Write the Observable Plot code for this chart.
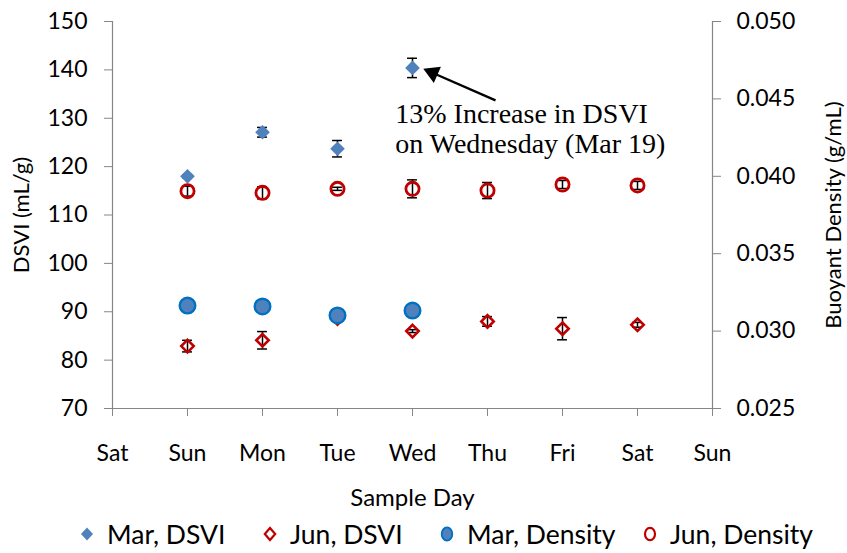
<!DOCTYPE html>
<html><head><meta charset="utf-8">
<script src="https://cdn.jsdelivr.net/npm/d3@7"></script>
<script src="https://cdn.jsdelivr.net/npm/@observablehq/plot@0.6"></script>
<style>
body{margin:0;background:#fff;font-family:Lato, "Liberation Sans", sans-serif;}
#chart svg{display:block;}
#legend{position:relative;height:43px;width:847px;font-size:26.5px;color:#000;}
.item{position:absolute;top:9px;display:flex;align-items:center;white-space:nowrap;line-height:30px;}
.item svg{margin-right:13px;}
</style></head><body><div id="chart"></div><div id="legend"></div>
<script>
// ---------- data ----------
const axisDays = ["Sat","Sun","Mon","Tue","Wed","Thu","Fri","Sat","Sun"];
const sampleDays = ["Sun","Mon","Tue","Wed","Thu","Fri","Sat"];
const marDays = ["Sun","Mon","Tue","Wed"];
const junDays = ["Sun","Mon","Tue","Wed","Thu","Fri","Sat"];
const marDSVI = [118.0, 127.1, 123.7, 140.4];
const marDSVIErr = [0.3, 1.0, 1.7, 2.0];
const junDSVI = [82.9, 84.1, 88.6, 86.0, 88.0, 86.5, 87.3];
const junDSVIErr = [1.2, 1.8, 0.5, 0.3, 1.0, 2.3, 0.5];
const marDensity = [0.03165, 0.03159, 0.03101, 0.03133];
const marDensityErr = [0.0001, 0.0001, 0.0001, 0.0001];
const junDensity = [0.03904, 0.03893, 0.03919, 0.03919, 0.03908, 0.03947, 0.03941];
const junDensityErr = [0.00032, 0.00039, 0.0001, 0.00058, 0.00052, 0.00026, 0.00026];
const leftTicks = [70, 80, 90, 100, 110, 120, 130, 140, 150];
const rightTicks = [0.025, 0.030, 0.035, 0.040, 0.045, 0.050];
const leftDomain = [70, 150];
const rightDomain = [0.025, 0.050];
const annotationLines = "13% Increase in DSVI\non Wednesday (Mar 19)";
const annotationText = {x: 3.77, y: 133.3};
const arrowTail = {x: 5.107, y: 133.7};
const arrowTip = {x: 4.147, y: 140.2};

// ---------- helpers ----------
const xOf = d => sampleDays.indexOf(d) + 1;
const toLeft = v => leftDomain[0] + (v - rightDomain[0]) / (rightDomain[1] - rightDomain[0]) * (leftDomain[1] - leftDomain[0]);
const toLeftErr = e => e / (rightDomain[1] - rightDomain[0]) * (leftDomain[1] - leftDomain[0]);

const rows = (days, vals, errs, series, conv, convErr) =>
  days.map((d, i) => ({series, x: xOf(d), y: conv(vals[i]), e: convErr(errs[i])}));
const id = v => v;
const marD = rows(marDays, marDSVI, marDSVIErr, "Mar, DSVI", id, id);
const junD = rows(junDays, junDSVI, junDSVIErr, "Jun, DSVI", id, id);
const marDen = rows(marDays, marDensity, marDensityErr, "Mar, Density", toLeft, toLeftErr);
const junDen = rows(junDays, junDensity, junDensityErr, "Jun, Density", toLeft, toLeftErr);
const all = [...marD, ...junD, ...marDen, ...junDen];
const capW = 0.066;

const gray = "#868686";
const blue = "#4F81BD";
const red = "#C00000";
const ringBlue = "#0070C0";

// arrow head geometry in data space
const W = 600, H = 387;
const pxPerX = W / 8, pxPerY = H / 80;
const dxp = (arrowTip.x - arrowTail.x) * pxPerX, dyp = -(arrowTip.y - arrowTail.y) * pxPerY;
const len = Math.hypot(dxp, dyp);
const ux = dxp / len, uy = dyp / len;
const headBack = 10;
const headCenter = {x: arrowTip.x - ux * headBack / pxPerX, y: arrowTip.y + uy * headBack / pxPerY};
const lineEnd = {x: arrowTip.x - ux * 14 / pxPerX, y: arrowTip.y + uy * 14 / pxPerY};
const headRot = Math.atan2(ux, -uy) * 180 / Math.PI;

const chart = Plot.plot({
  width: 847,
  height: 510,
  marginLeft: 112,
  marginRight: 135,
  marginTop: 21,
  marginBottom: 102,
  style: {fontFamily: "Lato, 'Liberation Sans', sans-serif", background: "#fff", overflow: "visible"},
  x: {domain: [0, 8], axis: null},
  y: {domain: leftDomain, axis: null},
  marks: [
    Plot.ruleX([0, 8], {stroke: gray, strokeWidth: 1.2}),
    Plot.ruleY([70], {stroke: gray, strokeWidth: 1.2}),
    Plot.axisY({anchor: "left", ticks: leftTicks, tickSize: 8, tickPadding: 17, fontSize: 23, stroke: gray, fill: "#000", label: null}),
    Plot.axisY({anchor: "right", ticks: rightTicks.map(toLeft), tickFormat: v => d3.format(".3f")(rightDomain[0] + (v - leftDomain[0]) / (leftDomain[1] - leftDomain[0]) * (rightDomain[1] - rightDomain[0])), tickSize: 8, tickPadding: 16, fontSize: 23, stroke: gray, fill: "#000", label: null}),
    Plot.axisX({anchor: "bottom", ticks: d3.range(axisDays.length), tickFormat: i => axisDays[i], tickSize: 8, tickPadding: 28, fontSize: 23, stroke: gray, fill: "#000", label: null}),
    Plot.text(["DSVI (mL/g)"], {frameAnchor: "left", dx: -91, rotate: -90, textAnchor: "middle", lineAnchor: "middle", fontSize: 22, fill: "#000", style: "letter-spacing:0.8px"}),
    Plot.text(["Buoyant Density (g/mL)"], {frameAnchor: "right", dx: 121, rotate: -90, textAnchor: "middle", lineAnchor: "middle", fontSize: 22, fill: "#000", style: "letter-spacing:0.5px"}),
    Plot.text(["Sample Day"], {frameAnchor: "bottom", dy: 97, fontSize: 24, fill: "#000"}),
    // error bars
    Plot.ruleX(all, {x: "x", y1: d => d.y - d.e, y2: d => d.y + d.e, stroke: "#000", strokeWidth: 1.5}),
    Plot.ruleY(all, {y: d => d.y - d.e, x1: d => d.x - capW, x2: d => d.x + capW, stroke: "#000", strokeWidth: 1.5}),
    Plot.ruleY(all, {y: d => d.y + d.e, x1: d => d.x - capW, x2: d => d.x + capW, stroke: "#000", strokeWidth: 1.5}),
    // markers
    Plot.dot(marD, {x: "x", y: "y", symbol: "diamond2", r: 6.6, fill: blue, stroke: "none"}),
    Plot.dot(junD, {x: "x", y: "y", symbol: "diamond2", r: 5.6, fill: "none", stroke: red, strokeWidth: 2.6}),
    Plot.dot(marDen, {x: "x", y: "y", r: 7.8, fill: blue, stroke: ringBlue, strokeWidth: 2.4}),
    Plot.dot(junDen, {x: "x", y: "y", r: 6.6, fill: "none", stroke: red, strokeWidth: 2.8}),
    // annotation
    Plot.link([0], {x1: () => arrowTail.x, y1: () => arrowTail.y, x2: () => lineEnd.x, y2: () => lineEnd.y, stroke: "#000", strokeWidth: 2.4}),
    Plot.dot([0], {x: () => headCenter.x, y: () => headCenter.y, symbol: "triangle", r: 6.6, rotate: headRot, fill: "#000", stroke: "none"}),
    Plot.text([annotationLines], {x: () => annotationText.x, y: () => annotationText.y, text: d => d, textAnchor: "start", lineAnchor: "top", lineHeight: 1.05, fontFamily: "'Liberation Serif', 'DejaVu Serif', serif", fontSize: 28, fill: "#000"})
  ]
});
document.getElementById("chart").appendChild(chart);

// ---------- legend ----------
const legendItems = [
  {label: "Mar, DSVI", left: 80, svg: `<svg width="14" height="16" viewBox="-7 -8 14 16"><path d="M0,-6.5L6,0L0,6.5L-6,0Z" fill="${blue}"/></svg>`},
  {label: "Jun, DSVI", left: 263, svg: `<svg width="14" height="16" viewBox="-7 -8 14 16"><path d="M0,-6L5.2,0L0,6L-5.2,0Z" fill="none" stroke="${red}" stroke-width="2.2"/></svg>`},
  {label: "Mar, Density", left: 440, svg: `<svg width="14" height="16" viewBox="-7 -8 14 16"><ellipse rx="5.3" ry="6.6" fill="${blue}" stroke="${ringBlue}" stroke-width="1.8"/></svg>`},
  {label: "Jun, Density", left: 643, svg: `<svg width="14" height="16" viewBox="-7 -8 14 16"><ellipse rx="5" ry="6.2" fill="none" stroke="${red}" stroke-width="2.2"/></svg>`}
];
const legend = document.getElementById("legend");
for (const it of legendItems) {
  const div = document.createElement("div");
  div.className = "item";
  div.style.left = it.left + "px";
  div.innerHTML = it.svg + `<span>${it.label}</span>`;
  legend.appendChild(div);
}
</script></body></html>
